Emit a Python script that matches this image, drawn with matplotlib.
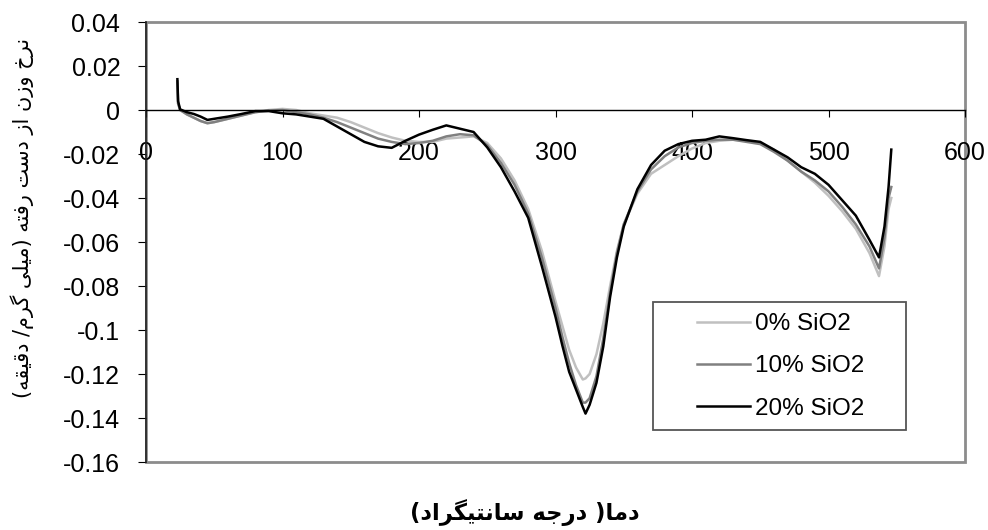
import matplotlib
matplotlib.use("Agg")
import matplotlib.pyplot as plt
from matplotlib.patches import Rectangle

plt.rcParams["font.family"] = ["Liberation Sans", "DejaVu Sans"]
plt.rcParams["axes.unicode_minus"] = False

# temperature (C)
temp = [23, 23.5, 25, 30, 35, 40, 45, 50, 60, 70, 80, 90, 100, 110, 120, 130,
        140, 150, 160, 170, 180, 190, 200, 210, 220, 230, 240, 250, 260, 270,
        280, 290, 300, 305, 310, 315, 320, 322, 325, 330, 335, 340, 345, 350,
        360, 370, 380, 390, 400, 410, 420, 430, 440, 450, 460, 470, 480, 490,
        500, 510, 520, 530, 537, 541, 544, 546]

# weight loss rate (mg/min)
sio2_0 = [0.012, 0.003, 0.0, -0.002, -0.0035, -0.005, -0.006, -0.0055, -0.004,
          -0.0025, -0.001, 0.0, 0.0005, 0.0, -0.0015, -0.0025, -0.0035, -0.0055,
          -0.008, -0.0105, -0.0125, -0.014, -0.0145, -0.0145, -0.013, -0.0125,
          -0.012, -0.015, -0.022, -0.032, -0.045, -0.064, -0.087, -0.098, -0.109,
          -0.117, -0.1225, -0.122, -0.12, -0.111, -0.097, -0.08, -0.064, -0.052,
          -0.038, -0.029, -0.025, -0.021, -0.0175, -0.015, -0.014, -0.0135,
          -0.014, -0.015, -0.018, -0.023, -0.028, -0.033, -0.039, -0.046, -0.054,
          -0.065, -0.0755, -0.062, -0.045, -0.04]
sio2_10 = [0.013, 0.003, 0.0, -0.002, -0.0035, -0.005, -0.006, -0.0055, -0.004,
           -0.0025, -0.001, -0.0003, 0.0, -0.001, -0.002, -0.0035, -0.0055, -0.008,
           -0.0105, -0.013, -0.0145, -0.0155, -0.015, -0.014, -0.012, -0.011,
           -0.0115, -0.016, -0.024, -0.034, -0.047, -0.067, -0.09, -0.103, -0.115,
           -0.125, -0.133, -0.133, -0.131, -0.121, -0.104, -0.083, -0.065, -0.052,
           -0.037, -0.027, -0.021, -0.017, -0.015, -0.014, -0.0135, -0.0135,
           -0.0145, -0.0155, -0.019, -0.023, -0.028, -0.032, -0.037, -0.044,
           -0.052, -0.062, -0.072, -0.058, -0.04, -0.035]
sio2_20 = [0.014, 0.004, 0.0003, -0.001, -0.0018, -0.003, -0.0045, -0.004, -0.003,
           -0.0018, -0.0005, -0.0005, -0.0015, -0.002, -0.003, -0.004, -0.0075,
           -0.011, -0.0145, -0.0165, -0.0172, -0.014, -0.0112, -0.009, -0.007,
           -0.0085, -0.01, -0.017, -0.026, -0.037, -0.049, -0.071, -0.094, -0.107,
           -0.119, -0.127, -0.135, -0.138, -0.134, -0.124, -0.1075, -0.085,
           -0.067, -0.053, -0.036, -0.025, -0.0185, -0.0155, -0.014, -0.0135,
           -0.012, -0.0128, -0.0137, -0.0145, -0.018, -0.0215, -0.026, -0.029,
           -0.034, -0.041, -0.048, -0.059, -0.067, -0.053, -0.035, -0.018]

labels = ["0% SiO2", "10% SiO2", "20% SiO2"]
colors = ["#c0c0c0", "#808080", "#000000"]

x_ticks = [0, 100, 200, 300, 400, 500, 600]
y_ticks = [0.04, 0.02, 0, -0.02, -0.04, -0.06, -0.08, -0.1, -0.12, -0.14, -0.16]

xlabel = "دما( درجه سانتیگراد)"
ylabel = "نرخ وزن از دست رفته (میلی گرم/ دقیقه)"

# no arabic_reshaper here, so shape the persian text by hand
FORMS = {
    "ا": ("\ufe8d", "\ufe8e", None, None),
    "د": ("\ufea9", "\ufeaa", None, None),
    "ر": ("\ufead", "\ufeae", None, None),
    "ز": ("\ufeaf", "\ufeb0", None, None),
    "و": ("\ufeed", "\ufeee", None, None),
    "ت": ("\ufe95", "\ufe96", "\ufe97", "\ufe98"),
    "ج": ("\ufe9d", "\ufe9e", "\ufe9f", "\ufea0"),
    "خ": ("\ufea5", "\ufea6", "\ufea7", "\ufea8"),
    "س": ("\ufeb1", "\ufeb2", "\ufeb3", "\ufeb4"),
    "ف": ("\ufed1", "\ufed2", "\ufed3", "\ufed4"),
    "ق": ("\ufed5", "\ufed6", "\ufed7", "\ufed8"),
    "ل": ("\ufedd", "\ufede", "\ufedf", "\ufee0"),
    "م": ("\ufee1", "\ufee2", "\ufee3", "\ufee4"),
    "ن": ("\ufee5", "\ufee6", "\ufee7", "\ufee8"),
    "ه": ("\ufee9", "\ufeea", "\ufeeb", "\ufeec"),
    "ی": ("\ufbfc", "\ufbfd", "\ufbfe", "\ufbff"),
    "گ": ("\ufb92", "\ufb93", "\ufb94", "\ufb95"),
}


def farsi(text):
    out = []
    for i, c in enumerate(text):
        if c not in FORMS:
            out.append(c)
            continue
        prev = text[i - 1] if i > 0 else ""
        nxt = text[i + 1] if i + 1 < len(text) else ""
        jp = prev in FORMS and FORMS[prev][2] is not None
        jn = nxt in FORMS and FORMS[c][2] is not None
        iso, fin, ini, med = FORMS[c]
        if jp and jn:
            out.append(med)
        elif jp:
            out.append(fin)
        elif jn:
            out.append(ini)
        else:
            out.append(iso)
    vis = "".join(out)[::-1]
    return vis.translate(str.maketrans("()", ")("))


fig = plt.figure(figsize=(9.88, 5.30), dpi=100)
ax = fig.add_axes([146 / 988, 1 - 462 / 530, 819 / 988, 440 / 530])

for vals, lab, col in zip([sio2_0, sio2_10, sio2_20], labels, colors):
    ax.plot(temp, vals, color=col, lw=1.8, label=lab)

ax.set_xlim(0, 600)
ax.set_ylim(-0.16, 0.04)
ax.set_xticks(x_ticks)
ax.set_yticks(y_ticks)
ax.set_yticklabels([f"{v:g}" for v in y_ticks])

ax.spines["bottom"].set_position(("data", 0))
ax.spines["bottom"].set_linewidth(1.0)
ax.spines["left"].set_linewidth(1.2)
ax.spines["left"].set_color("#222222")
for s in ["top", "right"]:
    ax.spines[s].set_visible(False)
# gray plot area border like excel
ax.add_patch(Rectangle((0, 0), 1, 1, transform=ax.transAxes, fill=False,
                       edgecolor="#8c8c8c", lw=2, clip_on=False, zorder=0))

ax.tick_params(axis="x", direction="out", length=5, pad=17, labelsize=18)
ax.tick_params(axis="y", direction="out", length=5.5, pad=13, labelsize=18)

# legend without its own frame, box drawn separately
leg = ax.legend(loc="upper left", bbox_to_anchor=(697 / 988, 1 - 313 / 530),
                bbox_transform=fig.transFigure, borderaxespad=0, borderpad=0,
                fontsize=17.5, frameon=False, handlelength=2.2,
                labelspacing=0.84, handletextpad=0.2)
fig.patches.append(Rectangle((653 / 988, 1 - 430 / 530), 253 / 988, 128 / 530,
                             transform=fig.transFigure, fill=False,
                             edgecolor="#555555", lw=1.3))

fig.text(22 / 988, 1 - 218 / 530, farsi(ylabel), rotation=90, ha="center",
         va="center", fontsize=15, family=["DejaVu Sans"])
fig.text(525 / 988, 1 - 513 / 530, farsi(xlabel), ha="center", va="center",
         fontsize=16.3, fontweight="bold", family=["DejaVu Sans"])

fig.savefig("out.png", dpi=100)
